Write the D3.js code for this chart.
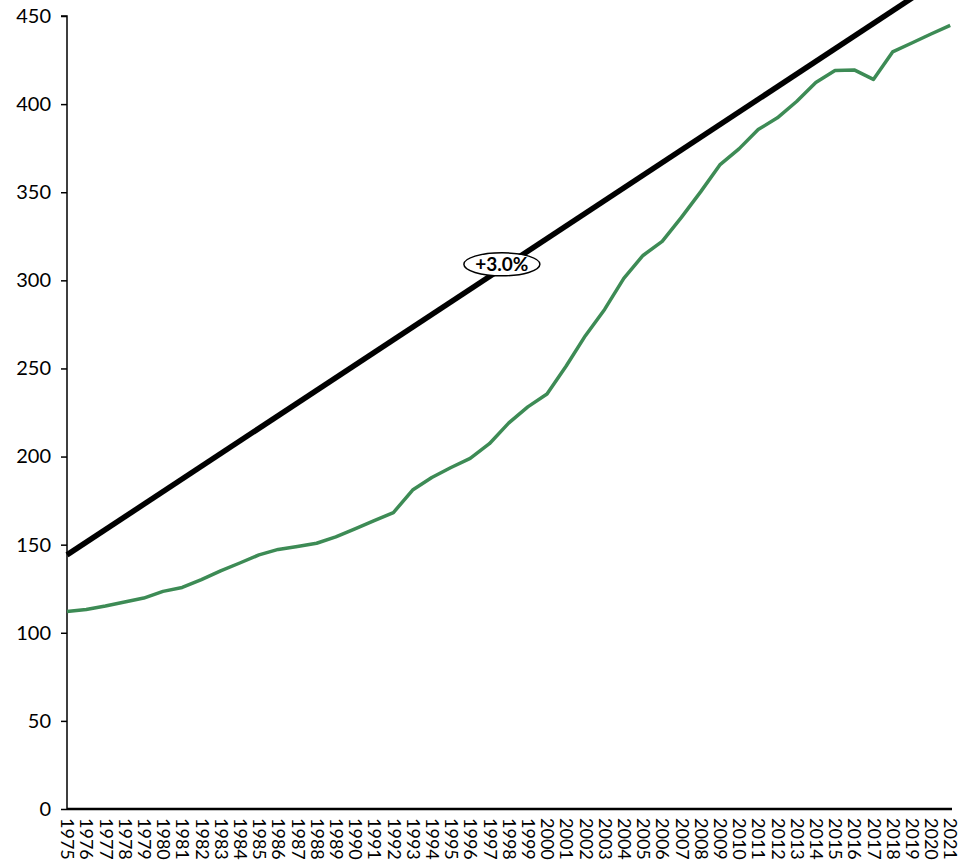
<!DOCTYPE html>
<html>
<head>
<meta charset="utf-8">
<script src="https://cdn.jsdelivr.net/npm/d3@7"></script>
<style>
  body { margin: 0; background: #fff; }
  svg { display: block; }
  svg text { font-family: Lato, 'Open Sans', sans-serif; }
</style>
</head>
<body>
<svg id="chart" width="977" height="862"></svg>
<script>
// Years on the x axis
const years = d3.range(1975, 2022);

// Green series
const actual = [
  112.1, 113.2, 115.2, 117.5, 119.7, 123.5, 125.7, 130.2, 135.1, 139.6,
  144.2, 147.3, 149.0, 150.8, 154.4, 159.0, 163.6, 168.2, 181.0, 188.1,
  193.8, 199.0, 207.3, 219.0, 228.2, 235.5, 251.4, 268.6, 283.5, 301.1,
  314.1, 322.1, 335.7, 350.2, 365.5, 374.6, 385.6, 392.2, 401.5, 412.3,
  419.1, 419.4, 414.0, 429.6, 434.7, 439.8, 444.7
];

// Straight trend line, start and end points
const trendYears = [1975, 2021];
const trendValues = [144.2, 474.5];
const trendLabel = '+3.0%';
const trendLabelYear = 1997.65;

const yTicks = [0, 50, 100, 150, 200, 250, 300, 350, 400, 450];

const svg = d3.select('#chart');
const margin = { left: 67 };

const x = d3.scaleLinear().domain([1975, 2021]).range([67, 950.2]);
const y = d3.scaleLinear().domain([0, 450]).range([809, 16]);

// Y axis
const yAxis = svg.append('g')
  .attr('transform', `translate(${margin.left},0)`)
  .call(d3.axisLeft(y).tickValues(yTicks).tickSize(6).tickPadding(10));
yAxis.attr('font-family', null);
yAxis.select('.domain').attr('stroke', '#000').attr('stroke-width', 1.5)
  .attr('d', `M-6,${y(450)}H0V${y(0)}`);
yAxis.selectAll('.tick line').attr('stroke', '#000').attr('stroke-width', 1.5);
yAxis.selectAll('.tick text').attr('font-size', 20).attr('fill', '#000');

// X axis
const xAxis = svg.append('g')
  .attr('transform', `translate(0,${y(0)})`)
  .call(d3.axisBottom(x).tickValues(years).tickFormat(d3.format('d')).tickSize(0).tickSizeOuter(0));
xAxis.attr('font-family', null);
xAxis.select('.domain').attr('stroke', '#000').attr('stroke-width', 2.5)
  .attr('d', `M${x(1975)},0H952`);
xAxis.selectAll('.tick text')
  .attr('font-size', 18)
  .attr('fill', '#000')
  .attr('text-anchor', 'start')
  .attr('transform', 'rotate(90)')
  .attr('x', 9)
  .attr('y', 0)
  .attr('dy', '0.35em');

// Trend line
const trendLine = d3.line().x(d => x(d[0])).y(d => y(d[1]));
svg.append('path')
  .datum(trendYears.map((yr, i) => [yr, trendValues[i]]))
  .attr('d', trendLine)
  .attr('fill', 'none')
  .attr('stroke', '#000')
  .attr('stroke-width', 5.5);

// Actual series
const line = d3.line().x((d, i) => x(years[i])).y(d => y(d));
svg.append('path')
  .datum(actual)
  .attr('d', line)
  .attr('fill', 'none')
  .attr('stroke', '#3d8b55')
  .attr('stroke-width', 3.5)
  .attr('stroke-linejoin', 'round');

// Label bubble on trend line
const slope = (trendValues[1] - trendValues[0]) / (trendYears[1] - trendYears[0]);
const lblVal = trendValues[0] + slope * (trendLabelYear - trendYears[0]);
const lg = svg.append('g')
  .attr('transform', `translate(${x(trendLabelYear)},${y(lblVal) - 4})`);
lg.append('ellipse')
  .attr('rx', 38).attr('ry', 11.5)
  .attr('fill', '#fff').attr('stroke', '#000').attr('stroke-width', 1.5);
lg.append('text')
  .attr('text-anchor', 'middle')
  .attr('dy', '0.36em')
  .attr('font-size', 19)
  .attr('font-weight', 'bold')
  .text(trendLabel);
</script>
</body>
</html>
